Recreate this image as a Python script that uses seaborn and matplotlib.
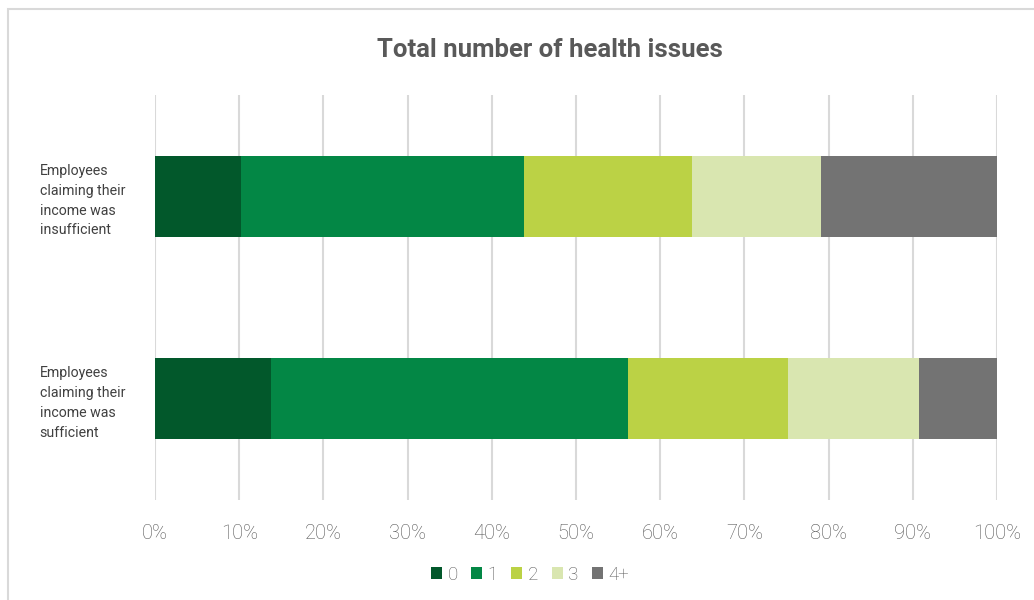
import matplotlib
matplotlib.use("Agg")
import matplotlib.pyplot as plt
import seaborn as sns
import pandas as pd
import numpy as np
from matplotlib.patches import Patch, Rectangle
from matplotlib.ticker import FuncFormatter

categories = ["Employees\nclaiming their\nincome was\ninsufficient",
              "Employees\nclaiming their\nincome was\nsufficient"]
series = ["0", "1", "2", "3", "4+"]
v0 = [10.2, 13.8]
v1 = [33.6, 42.4]
v2 = [20.0, 19.0]
v3 = [15.3, 15.5]
v4 = [20.9, 9.3]
colors = ["#02582B", "#038745", "#BBD245", "#D9E6B0", "#737373"]
xticks = [0, 10, 20, 30, 40, 50, 60, 70, 80, 90, 100]

sns.set_theme(style="white")
plt.rcParams['font.family'] = ['Roboto', 'DejaVu Sans']

fig = plt.figure(figsize=(10.34, 6.0), dpi=100)
ax = fig.add_axes([155/1034, 100/600, (997-155)/1034, 405/600])

vals = np.array([v0, v1, v2, v3, v4])
cum = np.cumsum(vals, axis=0)
for i in range(len(series) - 1, -1, -1):
    df = pd.DataFrame({"cat": categories, "val": cum[i]})
    sns.barplot(data=df, x="val", y="cat", color=colors[i], width=0.4,
                saturation=1, ax=ax, zorder=3, linewidth=0)

ax.set_xlim(0, 100)
ax.set_ylim(1.5, -0.5)
ax.set_xticks(xticks)
ax.xaxis.set_major_formatter(FuncFormatter(lambda v, p: f"{int(v)}%"))
ax.grid(axis="x", color="#D9D9D9", linewidth=1.5, zorder=0)
ax.grid(axis="y", visible=False)
for s in ax.spines.values():
    s.set_visible(False)
ax.set_xlabel("")
ax.set_ylabel("")
ax.tick_params(axis="x", length=0, pad=17, labelsize=14.5, labelcolor="#555555")
ax.tick_params(axis="y", length=0, pad=83)
for lbl in ax.get_xticklabels():
    lbl.set_fontweight("light")
ax.set_yticks([0, 1], labels=categories, ha="left", linespacing=1.53,
              fontsize=10.2, color="#404040", fontweight="normal")

fig.text(550/1034, 1 - 50/600, "Total number of health issues", ha="center",
         va="center", fontsize=18.5, fontweight="bold", color="#595959")

handles = [Patch(facecolor=c, edgecolor="none") for c in colors]
fig.legend(handles, series, loc="center", bbox_to_anchor=(530/1034, 1 - 575/600),
           ncol=5, frameon=False, fontsize=13.5, handlelength=0.6, handleheight=0.6,
           handletextpad=0.3, columnspacing=0.7, labelcolor="#595959")
for t in fig.legends[0].get_texts():
    t.set_fontweight("light")

fig.patches.append(Rectangle((8/1034, -0.1), 1.2, 1 - 9/600 + 0.1,
                             transform=fig.transFigure, fill=False,
                             edgecolor="#D9D9D9", linewidth=1.5))

fig.savefig("out.png", dpi=100)
